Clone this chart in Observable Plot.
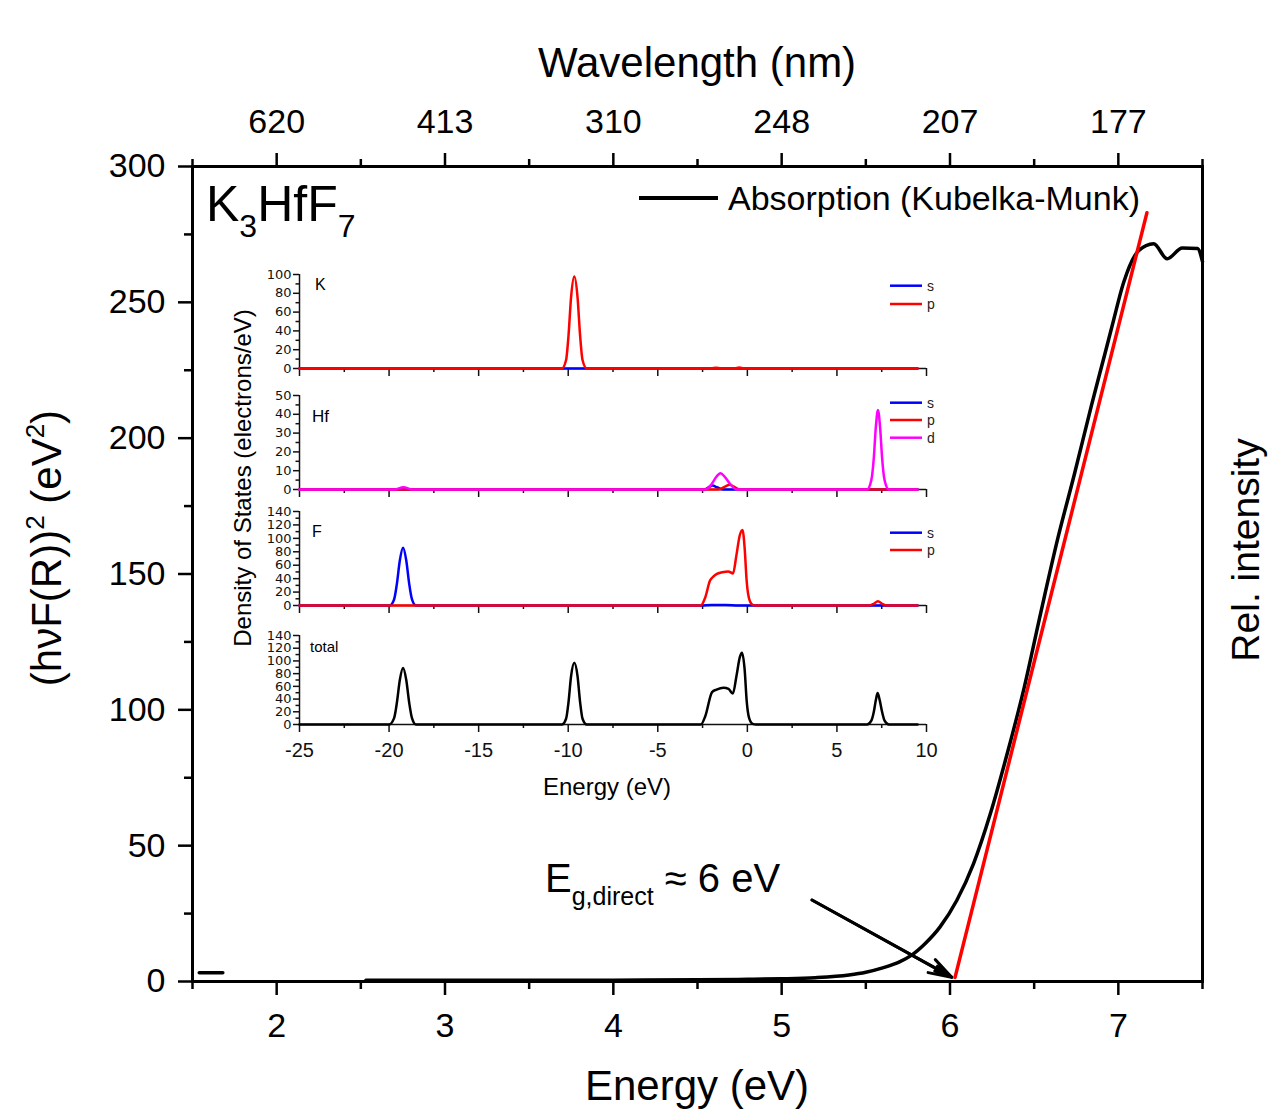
<!DOCTYPE html>
<html><head><meta charset="utf-8">
<script src="https://cdn.jsdelivr.net/npm/d3@7"></script>
<script src="https://cdn.jsdelivr.net/npm/@observablehq/plot@0.6"></script>
<style>
body{margin:0;background:#fff;}
#wrap{position:relative;width:1285px;height:1115px;overflow:hidden;background:#fff;}
#wrap > svg{position:absolute;}
</style></head><body><div id="wrap"></div>
<script>
const FONT = '"Liberation Sans", Arial, Helvetica, sans-serif';
const WIDEFONT = '"DejaVu Sans", Verdana, sans-serif';

// ---------- main chart data ----------
const energyTicks = [2, 3, 4, 5, 6, 7];
const energyMinorTicks = [1.5, 2.5, 3.5, 4.5, 5.5, 6.5, 7.5];
const wavelengthTickLabels = ["620", "413", "310", "248", "207", "177"];
const yTicks = [0, 50, 100, 150, 200, 250, 300];
const yMinorTicks = [25, 75, 125, 175, 225, 275];

const absEnergy = [2.53, 3.0, 3.5, 4.0, 4.5, 4.8, 5.0, 5.2, 5.4, 5.5, 5.6, 5.7, 5.77, 5.85, 5.94, 6.04, 6.14, 6.24, 6.34, 6.44, 6.54, 6.64, 6.74, 6.84, 6.92, 6.97, 7.03, 7.12, 7.21, 7.29, 7.38, 7.47, 7.5];
const absValue  = [0.5, 0.5, 0.5, 0.5, 0.6, 0.8, 1.0, 1.4, 2.4, 3.4, 5.0, 7.2, 9.6, 13.8, 20.0, 29.8, 43.4, 61.8, 83.9, 108, 136, 163, 187, 212, 231, 243, 257, 269, 271.6, 266, 270, 269.8, 265];
const strayEnergy = [1.54, 1.68];
const strayValue = [3.2, 3.2];
const fitEnergy = [6.03, 7.17];
const fitValue = [1.5, 283];
const arrowEnergy = [5.18, 6.01];
const arrowValue = [30, 1.6];

// ---------- inset DOS data ----------
const dosXTicks = [-25, -20, -15, -10, -5, 0, 5, 10];
const dosXMinorTicks = [-22.5, -17.5, -12.5, -7.5, -2.5, 2.5, 7.5];

const K_s_E = [-25, 9.5];
const K_s_V = [0, 0];
const K_p_E = [-25, -10.35, -10.12, -9.98, -9.84, -9.66, -9.48, -9.34, -9.2, -8.97, -2.0, -1.75, -1.5, -0.7, -0.45, -0.2, 9.5];
const K_p_V = [0, 0, 9, 36, 76, 98, 76, 36, 9, 0, 0, 0.9, 0, 0, 1.1, 0, 0];

const Hf_s_E = [-25, -2.4, -2.15, -1.94, -1.7, -1.35, 9.5];
const Hf_s_V = [0, 0, 1.3, 2.1, 1.2, 0, 0];
const Hf_p_E = [-25, -1.6, -1.25, -0.98, -0.75, -0.45, 9.5];
const Hf_p_V = [0, 0, 1.5, 2.5, 1.5, 0, 0];
const Hf_d_E = [-25, -19.7, -19.2, -18.7, -2.35, -2.0, -1.75, -1.5, -1.25, -0.95, -0.6, 6.68, 6.92, 7.06, 7.17, 7.29, 7.41, 7.52, 7.66, 7.9, 9.5];
const Hf_d_V = [0, 0, 1.2, 0, 0, 2.8, 6.5, 8.6, 6.6, 2.8, 0, 0, 5, 17, 33, 42.3, 33, 17, 5, 0, 0];

const F_s_E = [-25, -19.97, -19.72, -19.56, -19.4, -19.22, -19.04, -18.88, -18.72, -18.5, -2.6, -2.0, -1.2, -0.5, 9.5];
const F_s_V = [0, 0, 9, 33, 67, 86, 67, 33, 9, 0, 0, 0.8, 0.8, 0, 0];
const F_p_E = [-25, -2.6, -2.35, -2.09, -1.9, -1.72, -1.4, -1.07, -0.8, -0.61, -0.42, -0.27, -0.15, -0.04, 0.1, 0.3, 0.45, 6.8, 7.05, 7.29, 7.53, 7.8, 9.5];
const F_p_V = [0, 0, 12, 36.7, 43, 46.8, 49.5, 50.8, 47.8, 75, 105, 112.6, 85, 37, 10, 1, 0, 0, 2.5, 6.5, 2.5, 0, 0];

const Tot_E = [-25, -20.0, -19.72, -19.56, -19.4, -19.22, -19.04, -18.88, -18.72, -18.5, -10.35, -10.12, -9.98, -9.84, -9.66, -9.48, -9.34, -9.2, -8.97, -2.6, -2.35, -1.97, -1.72, -1.33, -1.05, -0.81, -0.61, -0.42, -0.3, -0.15, -0.04, 0.1, 0.3, 0.5, 6.68, 6.92, 7.06, 7.17, 7.27, 7.39, 7.52, 7.66, 7.9, 9.5];
const Tot_V = [0, 0, 10, 35, 70, 89, 70, 35, 10, 0, 0, 9, 36, 76, 97, 76, 36, 9, 0, 0, 13, 51, 55, 58, 56, 48.6, 76, 106, 113, 86, 38, 10, 1, 0, 0, 6, 20, 38, 49.6, 38, 20, 6, 0, 0];

const zip = (xs, ys) => xs.map((x, i) => ({x, y: ys[i]}));
const wrap = document.getElementById("wrap");

// ---------- main chart ----------
const wlMap = new Map(energyTicks.map((e, i) => [e, wavelengthTickLabels[i]]));
const arrowData = [{x1: arrowEnergy[0], y1: arrowValue[0], x2: arrowEnergy[1], y2: arrowValue[1]}];
const main = Plot.plot({
  width: 1285, height: 1115,
  marginLeft: 192, marginRight: 83, marginTop: 166, marginBottom: 134,
  x: {domain: [1.5, 7.5]},
  y: {domain: [0, 300]},
  style: {fontFamily: FONT, fontSize: "34px", color: "#000", background: "transparent", overflow: "visible"},
  marks: [
    Plot.axisX({anchor: "bottom", ticks: energyTicks, tickSize: 14, tickPadding: 17, tickFormat: d => String(d), strokeWidth: 2.5, label: null}),
    Plot.axisX({anchor: "bottom", ticks: energyMinorTicks, tickSize: 8, tickFormat: () => "", strokeWidth: 2.5, label: null}),
    Plot.axisX({anchor: "top", ticks: energyTicks, tickSize: 14, tickPadding: 20, tickFormat: d => wlMap.get(d), strokeWidth: 2.5, label: null}),
    Plot.axisX({anchor: "top", ticks: energyMinorTicks, tickSize: 8, tickFormat: () => "", strokeWidth: 2.5, label: null}),
    Plot.axisY({anchor: "left", ticks: yTicks, tickSize: 14, tickPadding: 13, tickFormat: d => String(d), strokeWidth: 2.5, label: null}),
    Plot.axisY({anchor: "left", ticks: yMinorTicks, tickSize: 8, tickFormat: () => "", strokeWidth: 2.5, label: null}),
    Plot.line(zip(strayEnergy, strayValue), {x: "x", y: "y", stroke: "#000", strokeWidth: 3.5, strokeLinecap: "round"}),
    Plot.line(zip(absEnergy, absValue), {x: "x", y: "y", stroke: "#000", strokeWidth: 3.5, strokeLinejoin: "round", curve: "monotone-x"}),
    Plot.line(zip(fitEnergy, fitValue), {x: "x", y: "y", stroke: "#ff0000", strokeWidth: 3.5}),
    Plot.arrow(arrowData, {x1: "x1", y1: "y1", x2: "x2", y2: "y2", stroke: "#000", strokeWidth: 3, headLength: 12, headAngle: 36}),
    Plot.arrow(arrowData, {x1: "x1", y1: "y1", x2: "x2", y2: "y2", stroke: "#000", strokeWidth: 3, headLength: 9, headAngle: 18}),
    Plot.frame({stroke: "#000", strokeWidth: 3})
  ]
});
main.style.left = "0px"; main.style.top = "0px";
wrap.appendChild(main);

// ---------- inset panels ----------
const panels = [
  {top: 274, bottom: 368, ymax: 100, yt: [0,20,40,60,80,100], ym: [10,30,50,70,90],
   series: [[K_s_E, K_s_V, "#0000ff"], [K_p_E, K_p_V, "#ff0000"]]},
  {top: 395, bottom: 489, ymax: 50, yt: [0,10,20,30,40,50], ym: [5,15,25,35,45],
   series: [[Hf_s_E, Hf_s_V, "#0000ff"], [Hf_p_E, Hf_p_V, "#ff0000"], [Hf_d_E, Hf_d_V, "#ff00ff"]]},
  {top: 511, bottom: 605, ymax: 140, yt: [0,20,40,60,80,100,120,140], ym: [10,30,50,70,90,110,130],
   series: [[F_s_E, F_s_V, "#0000ff"], [F_p_E, F_p_V, "#ff0000"]]},
  {top: 635, bottom: 724, ymax: 140, yt: [0,20,40,60,80,100,120,140], ym: [10,30,50,70,90,110,130],
   series: [[Tot_E, Tot_V, "#000"]], labels: true}
];
const insetLeft = 250, insetMarginLeft = 49, insetMarginRight = 24, insetWidth = 700;
for (const p of panels) {
  const mt = 10, mb = p.labels ? 45 : 14;
  const h = (p.bottom - p.top) + mt + mb;
  const svg = Plot.plot({
    width: insetWidth, height: h,
    marginLeft: insetMarginLeft, marginRight: insetMarginRight, marginTop: mt, marginBottom: mb,
    x: {domain: [-25, 10]},
    y: {domain: [0, p.ymax]},
    style: {fontFamily: WIDEFONT, fontSize: "13px", color: "#111", background: "transparent", overflow: "visible"},
    marks: [
      Plot.axisY({ticks: p.yt, tickSize: 6, tickPadding: 2, tickFormat: d => String(d), strokeWidth: 1.5, label: null}),
      Plot.axisY({ticks: p.ym, tickSize: 3.5, tickFormat: () => "", strokeWidth: 1.5, label: null}),
      Plot.axisX({ticks: dosXTicks, tickSize: 8, tickPadding: 10.5, strokeWidth: 1.5, label: null,
        tickFormat: p.labels ? (d => String(d)) : (() => ""), fontFamily: FONT, fontSize: 20}),
      Plot.axisX({ticks: dosXMinorTicks, tickSize: 4, tickFormat: () => "", strokeWidth: 1.5, label: null}),
      Plot.ruleX([-25], {stroke: "#111", strokeWidth: 1.5}),
      Plot.ruleY([0], {stroke: "#111", strokeWidth: 1.5}),
      ...p.series.map(([xs, ys, c]) => Plot.line(zip(xs, ys), {x: "x", y: "y", stroke: c, strokeWidth: 2.5, curve: "monotone-x"}))
    ]
  });
  svg.style.left = insetLeft + "px";
  svg.style.top = (p.top - mt) + "px";
  wrap.appendChild(svg);
}

// ---------- text overlay (titles, legend, annotations) ----------
const ov = d3.create("svg").attr("width", 1285).attr("height", 1115)
  .style("position", "absolute").style("left", "0px").style("top", "0px")
  .style("font-family", FONT).style("pointer-events", "none");

function addText(x, y, parts, {size = 34, anchor = "start", rotate = 0, family = FONT, fill = "#000"} = {}) {
  const t = ov.append("text").attr("text-anchor", anchor).attr("fill", fill).attr("font-family", family)
    .attr("font-size", size)
    .attr("transform", `translate(${x},${y})` + (rotate ? ` rotate(${rotate})` : ""));
  for (const part of parts) {
    const s = typeof part === "string" ? {t: part} : part;
    const ts = t.append("tspan").text(s.t);
    if (s.size) ts.attr("font-size", s.size);
    if (s.dy) ts.attr("dy", s.dy);
  }
  return t;
}

// axis titles
addText(697, 77, ["Wavelength (nm)"], {size: 42, anchor: "middle"});
addText(697, 1100, ["Energy (eV)"], {size: 42, anchor: "middle"});
addText(1259, 550, ["Rel. intensity"], {size: 39, anchor: "middle", rotate: -90});
addText(61, 548, ["(hνF(R))", {t: "2", size: 26, dy: -17}, {t: " (eV", dy: 17}, {t: "2", size: 26, dy: -17}, {t: ")", dy: 17}],
  {size: 42, anchor: "middle", rotate: -90});

// compound label
addText(206, 221, ["K", {t: "3", size: 32, dy: 16}, {t: "HfF", dy: -16}, {t: "7", size: 32, dy: 16}], {size: 50});

// legend
ov.append("line").attr("x1", 639).attr("x2", 718).attr("y1", 198).attr("y2", 198).attr("stroke", "#000").attr("stroke-width", 4);
addText(728, 210, ["Absorption (Kubelka-Munk)"], {size: 34});

// band gap annotation
addText(545, 892, ["E", {t: "g,direct", size: 25, dy: 13}, {t: " ≈ 6 eV", dy: -13}], {size: 40});

// inset labels
addText(251, 478, ["Density of States (electrons/eV)"], {size: 24, anchor: "middle", rotate: -90});
addText(607, 795, ["Energy (eV)"], {size: 24, anchor: "middle"});
addText(315, 290, ["K"], {size: 16});
addText(312, 421.5, ["Hf"], {size: 17});
addText(312, 536.5, ["F"], {size: 16});
addText(310, 651.5, ["total"], {size: 15});

// inset legends
const insetLegends = [
  [[285.7, "#0000ff", "s"], [304, "#ff0000", "p"]],
  [[402.7, "#0000ff", "s"], [420, "#ff0000", "p"], [437.7, "#ff00ff", "d"]],
  [[532.7, "#0000ff", "s"], [550, "#ff0000", "p"]]
];
for (const group of insetLegends) {
  for (const [y, c, lab] of group) {
    ov.append("line").attr("x1", 890).attr("x2", 922).attr("y1", y).attr("y2", y).attr("stroke", c).attr("stroke-width", 2.5);
    addText(927, y + 5, [lab], {size: 14, fill: "#222"});
  }
}
wrap.appendChild(ov.node());
</script>
</body></html>
